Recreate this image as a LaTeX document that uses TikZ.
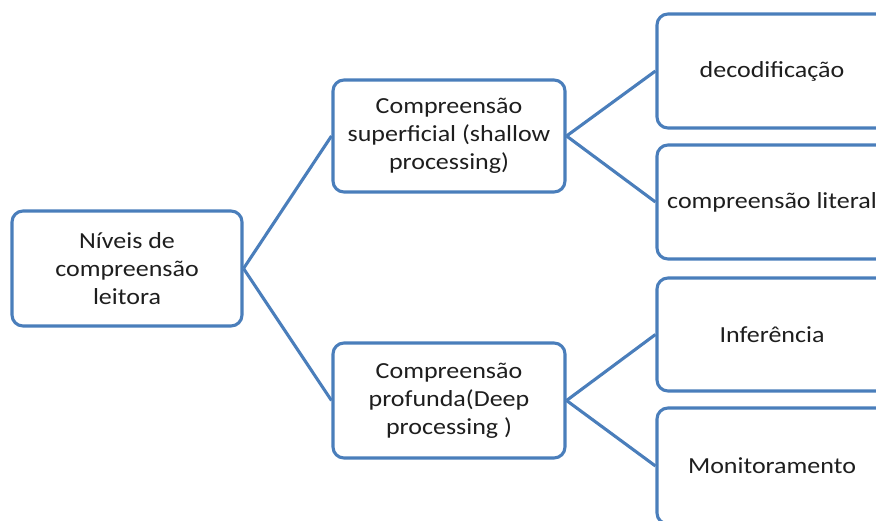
\documentclass[tikz,border=0pt]{standalone}
\usepackage{fontspec}
\setmainfont{Carlito}[FakeStretch=1.13]
\definecolor{boxblue}{HTML}{4A7EBB}
\definecolor{txt}{HTML}{1E1E1E}
\begin{document}
\begin{tikzpicture}[x=1pt,y=-1pt,
  box/.style={draw=boxblue, line width=3.1pt, rounded corners=11pt, fill=white,
    align=center, text=txt, inner sep=0pt,
    font=\fontsize{23}{28}\selectfont},
  link/.style={draw=boxblue, line width=3.1pt}]
\useasboundingbox (0,0) rectangle (876,520);
\clip (0,0) rectangle (876,520);
% nodes
\node[box, minimum width=230pt, minimum height=115pt] (root) at (127,268.5) {Níveis de\\compreensão\\leitora};
\node[box, minimum width=232pt, minimum height=112pt] (m1) at (449,136) {Compreensão\\superficial (shallow\\processing)};
\node[box, minimum width=232pt, minimum height=115pt] (m2) at (449,400.5) {Compreensão\\profunda(Deep\\processing )};
\node[box, minimum width=230pt, minimum height=114pt] (r1) at (772,71) {decodificação};
\node[box, minimum width=230pt, minimum height=114pt] (r2) at (772,202) {compreensão literal};
\node[box, minimum width=230pt, minimum height=113pt] (r3) at (772,334.5) {Inferência};
\node[box, minimum width=230pt, minimum height=116pt] (r4) at (772,466) {Monitoramento};
% connectors
\draw[link] (root.east) -- (m1.west);
\draw[link] (root.east) -- (m2.west);
\draw[link] (m1.east) -- (r1.west);
\draw[link] (m1.east) -- (r2.west);
\draw[link] (m2.east) -- (r3.west);
\draw[link] (m2.east) -- (r4.west);
\end{tikzpicture}
\end{document}
